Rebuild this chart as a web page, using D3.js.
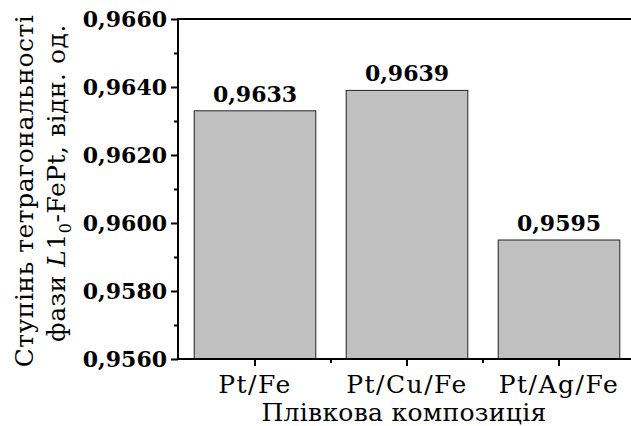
<!DOCTYPE html>
<html>
<head>
<meta charset="utf-8">
<script src="https://cdn.jsdelivr.net/npm/d3@7"></script>
<style>
  body { margin: 0; background: #fff; }
  svg { display: block; }
</style>
</head>
<body>
<script>
// data
var categories = ["Pt/Fe", "Pt/Cu/Fe", "Pt/Ag/Fe"];
var values = [0.9633, 0.9639, 0.9595];
var valueLabels = ["0,9633", "0,9639", "0,9595"];
var yTicks = [0.9560, 0.9580, 0.9600, 0.9620, 0.9640, 0.9660];
var yMinor = [0.9570, 0.9590, 0.9610, 0.9630, 0.9650];

var FONT = "'DejaVu Serif'";
var width = 631, height = 426;
var axisX = 178, plotTop = 19, plotBottom = 359;

var svg = d3.select("body").append("svg")
  .attr("width", width)
  .attr("height", height);

var x = d3.scaleBand()
  .domain(categories)
  .range([179, 635])
  .paddingInner(0.2)
  .paddingOuter(0.1);

var y = d3.scaleLinear()
  .domain([0.9560, 0.9660])
  .range([plotBottom, plotTop]);

var fmt = function(d) { return d3.format(".4f")(d).replace(".", ","); };

// bars
svg.selectAll(".bar")
  .data(values)
  .enter()
  .append("rect")
  .attr("class", "bar")
  .attr("x", function(d, i) { return x(categories[i]); })
  .attr("y", function(d) { return y(d); })
  .attr("width", x.bandwidth())
  .attr("height", function(d) { return plotBottom - y(d); })
  .attr("fill", "#c0c0c0")
  .attr("stroke", "#222")
  .attr("stroke-width", 1);

// value labels
svg.selectAll(".val")
  .data(values)
  .enter()
  .append("text")
  .attr("class", "val")
  .attr("x", function(d, i) { return x(categories[i]) + x.bandwidth() / 2; })
  .attr("y", function(d) { return y(d) - 9; })
  .attr("text-anchor", "middle")
  .style("font-family", FONT)
  .style("font-size", "22px")
  .style("font-weight", "bold")
  .text(function(d, i) { return valueLabels[i]; });

// left axis
var yAxis = d3.axisLeft(y)
  .tickValues(yTicks)
  .tickSize(7)
  .tickPadding(4)
  .tickFormat(fmt);

var gy = svg.append("g")
  .attr("transform", "translate(" + axisX + ",0)")
  .call(yAxis)
  .attr("font-family", null);
gy.select(".domain").remove();
gy.selectAll("line").attr("stroke", "#000").attr("stroke-width", 2);
gy.selectAll("text")
  .style("font-family", FONT)
  .style("font-size", "22px")
  .style("font-weight", "bold")
  .attr("fill", "#000");

var yAxisMinor = d3.axisLeft(y)
  .tickValues(yMinor)
  .tickSize(4)
  .tickFormat("");
var gym = svg.append("g")
  .attr("transform", "translate(" + axisX + ",0)")
  .call(yAxisMinor);
gym.select(".domain").remove();
gym.selectAll("line").attr("stroke", "#000").attr("stroke-width", 2);

// bottom axis
var xAxis = d3.axisBottom(x)
  .tickSize(7)
  .tickPadding(6);
var gx = svg.append("g")
  .attr("transform", "translate(0," + plotBottom + ")")
  .call(xAxis)
  .attr("font-family", null);
gx.select(".domain").remove();
gx.selectAll("line").attr("stroke", "#000").attr("stroke-width", 2);
gx.selectAll("text")
  .style("font-family", FONT)
  .style("font-size", "25px")
  .style("letter-spacing", "1.5px")
  .attr("fill", "#000")
  .attr("dy", "0.82em");

// minor ticks between categories
var bounds = categories.slice(1).map(function(c) { return x(c) - x.step() * x.paddingInner() / 2; });
svg.selectAll(".xminor")
  .data(bounds)
  .enter()
  .append("line")
  .attr("class", "xminor")
  .attr("x1", function(d) { return d; })
  .attr("x2", function(d) { return d; })
  .attr("y1", plotBottom)
  .attr("y2", plotBottom + 4)
  .attr("stroke", "#000")
  .attr("stroke-width", 2);

// frame lines
svg.append("line")
  .attr("x1", axisX).attr("x2", axisX)
  .attr("y1", plotTop).attr("y2", plotBottom + 1)
  .attr("stroke", "#000").attr("stroke-width", 2);
svg.append("line")
  .attr("x1", axisX - 1).attr("x2", width)
  .attr("y1", plotBottom).attr("y2", plotBottom)
  .attr("stroke", "#000").attr("stroke-width", 2);
svg.append("line")
  .attr("x1", axisX - 1).attr("x2", width)
  .attr("y1", plotTop).attr("y2", plotTop)
  .attr("stroke", "#000").attr("stroke-width", 2);

// axis titles
svg.append("text")
  .attr("x", 404)
  .attr("y", 421)
  .attr("text-anchor", "middle")
  .style("font-family", FONT)
  .style("font-size", "25px")
  .style("letter-spacing", "0.3px")
  .text("Плівкова композиція");

svg.append("text")
  .attr("transform", "translate(33,191) rotate(-90)")
  .attr("text-anchor", "middle")
  .style("font-family", FONT)
  .style("font-size", "25px")
  .style("letter-spacing", "0.5px")
  .text("Ступінь тетрагональності");

var t2 = svg.append("text")
  .attr("transform", "translate(65,183) rotate(-90)")
  .attr("text-anchor", "middle")
  .style("font-family", FONT)
  .style("font-size", "25px")
  .style("letter-spacing", "0.5px");
t2.append("tspan").text("фази ");
t2.append("tspan").style("font-style", "italic").text("L");
t2.append("tspan").text("1");
t2.append("tspan").attr("dy", 6).style("font-size", "16px").text("0");
t2.append("tspan").attr("dy", -6).text("-FePt, відн. од.");
</script>
</body>
</html>
